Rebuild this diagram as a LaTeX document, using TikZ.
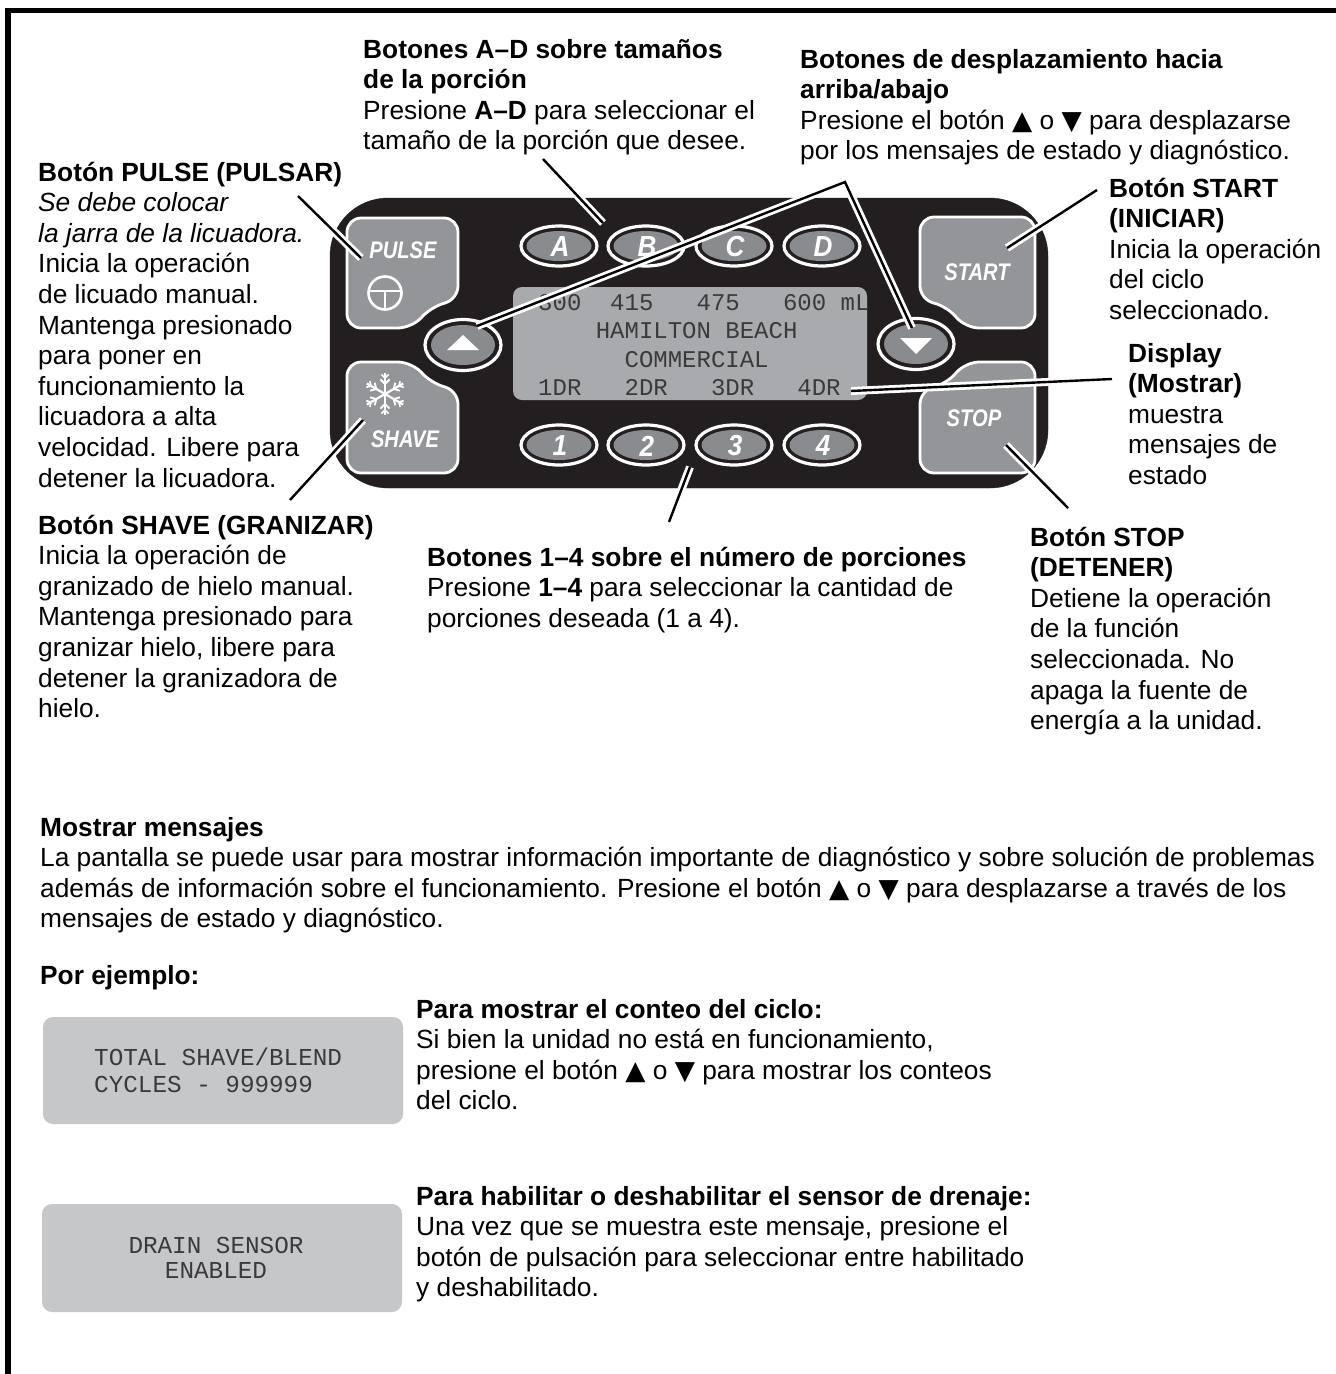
\documentclass[tikz,border=0pt]{standalone}
\usepackage{fontspec}
\setmainfont{Liberation Sans}
\newfontfamily\lcdfamily{Liberation Mono}
\newfontfamily\symfamily{DejaVu Sans}
\usepackage{xcolor}
\usetikzlibrary{calc}

\definecolor{panelcolor}{RGB}{35,31,32}
\definecolor{keycolor}{RGB}{147,149,152}
\definecolor{ovalcolor}{RGB}{137,139,142}
\definecolor{lcdcolor}{RGB}{168,170,173}
\definecolor{lcdlight}{RGB}{198,199,201}
\definecolor{lcdink}{RGB}{58,58,58}

\newcommand{\upkey}{{\symfamily\char"25B2}}
\newcommand{\downkey}{{\symfamily\char"25BC}}

% text nodes are placed by the baseline of their last line
\tikzset{
  txt/.style={anchor=base west, inner sep=0pt, align=left, font=\fontsize{26.3}{30.6}\selectfont},
  head/.style={txt, font=\fontsize{26.3}{30.6}\selectfont\bfseries},
  key/.style={draw=white, line width=2.8pt, fill=keycolor, rounded corners=14pt},
  keylabel/.style={inner sep=0pt, text=white, xscale=0.84, font=\fontsize{24}{24}\selectfont\bfseries\itshape},
  ovalkey/.style={draw=white, line width=3.2pt, fill=panelcolor},
  ovallabel/.style={inner sep=0pt, text=white, xscale=0.9, font=\fontsize{29}{29}\selectfont\bfseries\itshape},
  lcd/.style={inner sep=0pt, align=left, anchor=base west, text=lcdink, font=\lcdfamily\fontsize{24}{28.5}\selectfont},
  leader/.style={draw=black, line width=2.4pt, preaction={draw=white, line width=8pt}},
}

\begin{document}
\begin{tikzpicture}[x=1pt, y=-1pt]

\useasboundingbox (0,0) rectangle (1336,1374);
\path[fill=white] (0,0) rectangle (1336,1374);

% page frame
\path[draw,line width=5.5pt] (8,1374) -- (8,10.5) -- (1336,10.5);

% keypad body
\path[draw=panelcolor,fill=panelcolor,rounded corners=58pt] (330,198) rectangle (1048,488);

% big keys
\path[key] (347,218) -- (458,218) -- (458,300) -- (432,306) -- (412,328) -- (347,328) -- cycle;
\path[key] (347,362) -- (412,362) -- (432,384) -- (458,390) -- (458,473) -- (347,473) -- cycle;
\path[key] (920,217) -- (1035,217) -- (1035,328) -- (965,328) -- (947,306) -- (920,300) -- cycle;
\path[key] (920,390) -- (947,384) -- (965,362) -- (1035,362) -- (1035,473) -- (920,473) -- cycle;

\path[] (403,250) node[keylabel] (pulse) {PULSE};
\path[] (405,439) node[keylabel] (shave) {SHAVE};
\path[] (977,272) node[keylabel] (start) {START};
\path[] (974,418) node[keylabel] (stop) {STOP};

% pulse symbol
\path[draw=white,line width=2.6pt] (385,293) circle [radius=16.5];
\path[draw=white,line width=2.6pt] (368.5,291) -- (401.5,291) (385,291) -- (385,309.5);

% snowflake
\foreach \a in {30,90,150,210,270,330}{
  \path[draw=white,line width=2.2pt] (385,394) -- ++(\a:21);
  \path[draw=white,line width=1.8pt] ($(385,394)+(\a:10)$) -- ++(\a+45:6.5);
  \path[draw=white,line width=1.8pt] ($(385,394)+(\a:10)$) -- ++(\a-45:6.5);
  \path[draw=white,line width=1.6pt] ($(385,394)+(\a:16)$) -- ++(\a+45:5);
  \path[draw=white,line width=1.6pt] ($(385,394)+(\a:16)$) -- ++(\a-45:5);
}

% portion and count keys
\foreach \lbl/\cx in {A/559,B/646,C/734,D/822}{
  \path[ovalkey] (\cx,246) ellipse [x radius=38, y radius=20];
  \path[fill=ovalcolor] (\cx,246) ellipse [x radius=32.5, y radius=15];
  \path[] (\cx+1,247) node[ovallabel] (key\lbl) {\lbl};
}
\foreach \lbl/\cx in {1/559,2/646,3/734,4/822}{
  \path[ovalkey] (\cx,445) ellipse [x radius=38, y radius=20];
  \path[fill=ovalcolor] (\cx,445) ellipse [x radius=32.5, y radius=15];
  \path[] (\cx+1,446) node[ovallabel] (key\lbl) {\lbl};
}

% scroll keys
\path[ovalkey] (463,345) ellipse [x radius=38, y radius=25.5];
\path[fill=ovalcolor] (463,345) ellipse [x radius=32, y radius=20];
\path[fill=white] (447,350) -- (479,350) -- (463,335) -- cycle;
\path[ovalkey] (916,344) ellipse [x radius=38, y radius=25.5];
\path[fill=ovalcolor] (916,344) ellipse [x radius=32, y radius=20];
\path[fill=white] (900,338) -- (932,338) -- (916,354) -- cycle;

% display window
\path[fill=lcdcolor,rounded corners=9pt] (513,287) rectangle (867,400);
\path[] (538,395.5) node[lcd] (screen) {300~~415~~~475~~~600~mL\\
  \phantom{0000}HAMILTON~BEACH\\
  \phantom{000000}COMMERCIAL\\
  1DR~~~2DR~~~3DR~~~4DR};

% leaders
\coordinate (pulse_from) at (298,196);
\coordinate (pulse_to) at (361,258);
\coordinate (shave_from) at (290,500);
\coordinate (shave_to) at (363,420);
\coordinate (ad_from) at (543,159);
\coordinate (ad_to) at (603,223);
\coordinate (scroll_from) at (845,182);
\coordinate (up_to) at (477,326);
\coordinate (down_to) at (912,328);
\coordinate (start_from) at (1097,190);
\coordinate (start_to) at (1007,248);
\coordinate (display_from) at (1112,379);
\coordinate (display_to) at (851,391);
\coordinate (stop_from) at (1068,508);
\coordinate (stop_to) at (1006,445);
\coordinate (count_from) at (669,522);
\coordinate (count_to) at (690,467);

\path[leader] (pulse_from) -- (pulse_to);
\path[leader] (shave_from) -- (shave_to);
\path[leader] (ad_from) -- (ad_to);
\path[leader] (up_to) -- (scroll_from) -- (down_to);
\path[leader] (start_from) -- (start_to);
\path[leader] (display_from) -- (display_to);
\path[leader] (stop_from) -- (stop_to);
\path[leader] (count_from) -- (count_to);

% callout texts
\path[] (363,149.8) node[txt] (ad_text) {\textbf{Botones A–D sobre tamaños}\\
  \textbf{de la porción}\\
  Presione \textbf{A–D} para seleccionar el\\
  tamaño de la porción que desee.};
\path[] (800,159.8) node[txt] (scroll_text) {\textbf{Botones de desplazamiento hacia}\\
  \textbf{arriba/abajo}\\
  Presione el botón \upkey{} o \downkey{} para desplazarse\\
  por los mensajes de estado y diagnóstico.};
\path[] (38,487) node[txt] (pulse_text) {\textbf{Botón PULSE (PULSAR)}\\
  \textit{Se debe colocar}\\
  \textit{la jarra de la licuadora.}\\
  Inicia la operación\\
  de licuado manual.\\
  Mantenga presionado\\
  para poner en\\
  funcionamiento la\\
  licuadora a alta\\
  velocidad. Libere para\\
  detener la licuadora.};
\path[] (1109,319.4) node[txt] (start_text) {\textbf{Botón START}\\
  \textbf{(INICIAR)}\\
  Inicia la operación\\
  del ciclo\\
  seleccionado.};
\path[] (1128,484.4) node[txt] (display_text) {\textbf{Display}\\
  \textbf{(Mostrar)}\\
  muestra\\
  mensajes de\\
  estado};
\path[] (38,717.6) node[txt] (shave_text) {\textbf{Botón SHAVE (GRANIZAR)}\\
  Inicia la operación de\\
  granizado de hielo manual.\\
  Mantenga presionado para\\
  granizar hielo, libere para\\
  detener la granizadora de\\
  hielo.};
\path[] (427,627.2) node[txt] (count_text) {\textbf{Botones 1–4 sobre el número de porciones}\\
  Presione \textbf{1–4} para seleccionar la cantidad de\\
  porciones deseada (1 a 4).};
\path[] (1030,729.6) node[txt] (stop_text) {\textbf{Botón STOP}\\
  \textbf{(DETENER)}\\
  Detiene la operación\\
  de la función\\
  seleccionada. No\\
  apaga la fuente de\\
  energía a la unidad.};

% messages section
\path[] (40,927.8) node[txt] (messages) {\textbf{Mostrar mensajes}\\
  La pantalla se puede usar para mostrar información importante de diagnóstico y sobre solución de problemas\\
  además de información sobre el funcionamiento. Presione el botón \upkey{} o \downkey{} para desplazarse a través de los\\
  mensajes de estado y diagnóstico.};
\path[] (40,984) node[head] (example) {Por ejemplo:};

\path[fill=lcdlight,rounded corners=10pt] (43,1017) rectangle (403,1124);
\path[] (94,1092) node[lcd,font=\lcdfamily\fontsize{24.3}{27}\selectfont] (cycles_screen) {TOTAL SHAVE/BLEND\\CYCLES - 999999};
\path[] (416,1109.8) node[txt] (cycles_text) {\textbf{Para mostrar el conteo del ciclo:}\\
  Si bien la unidad no está en funcionamiento,\\
  presione el botón \upkey{} o \downkey{} para mostrar los conteos\\
  del ciclo.};

\path[fill=lcdlight,rounded corners=10pt] (42,1204) rectangle (402,1312);
\path[] (216,1278) node[lcd,anchor=base,align=center,font=\lcdfamily\fontsize{24.3}{25}\selectfont] (drain_screen) {DRAIN SENSOR\\ENABLED};
\path[] (416,1296.8) node[txt] (drain_text) {\textbf{Para habilitar o deshabilitar el sensor de drenaje:}\\
  Una vez que se muestra este mensaje, presione el\\
  botón de pulsación para seleccionar entre habilitado\\
  y deshabilitado.};

\end{tikzpicture}
\end{document}
